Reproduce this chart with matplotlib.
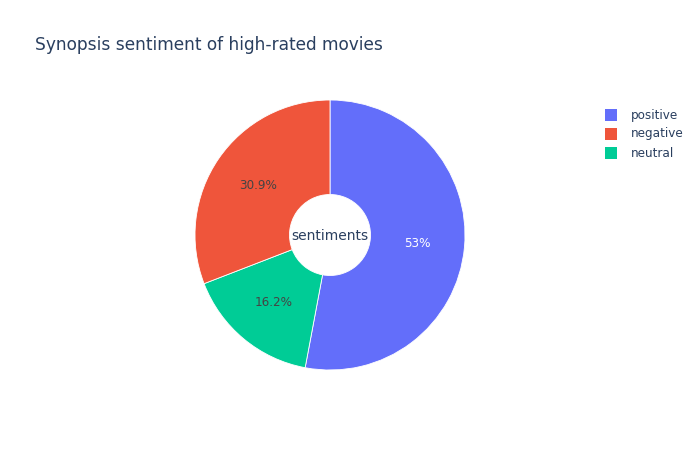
import matplotlib
matplotlib.use("Agg")
import matplotlib.pyplot as plt
from matplotlib.patches import Rectangle

plt.rcParams['font.family'] = ['DejaVu Sans']

labels = ["positive", "negative", "neutral"]
values = [53.0, 30.9, 16.2]
colors = ["#636EFA", "#EF553B", "#00CC96"]
pct_text = ["53%", "30.9%", "16.2%"]
text_colors = ["white", "#444444", "#444444"]
title = "Synopsis sentiment of high-rated movies"
center_label = "sentiments"

# clockwise drawing order as in reference: positive, neutral, negative
order = [0, 2, 1]

fig = plt.figure(figsize=(7, 4.5), dpi=100)
ax = fig.add_axes([(330 - 135) / 700, (450 - 370) / 450, 270 / 700, 270 / 450])
wedges, texts, autotexts = ax.pie(
    [values[i] for i in order],
    colors=[colors[i] for i in order],
    startangle=90,
    counterclock=False,
    radius=1.0,
    autopct=lambda p: "",
    pctdistance=0.65,
    wedgeprops=dict(width=0.7, edgecolor="white", linewidth=0.6),
)
for t, i in zip(autotexts, order):
    t.set_text(pct_text[i])
    t.set_color(text_colors[i])
    t.set_fontsize(8.64)
ax.text(0, -0.01, center_label, ha="center", va="center", fontsize=10.0, color="#2a3f5f")
ax.set_xlim(-1, 1)
ax.set_ylim(-1, 1)
ax.set_aspect("equal")
ax.axis("off")

fig.text(35 / 700, 1 - 45 / 450, title, fontsize=12.24, color="#2a3f5f", ha="left", va="center")

# legend
for k, (lab, col) in enumerate(zip(labels, colors)):
    yc = 115 + 19 * k
    fig.patches.append(Rectangle((605 / 700, 1 - (yc + 6) / 450), 12 / 700, 12 / 450,
                                 transform=fig.transFigure, facecolor=col, edgecolor="none"))
    fig.text(631 / 700, 1 - yc / 450, lab, fontsize=8.64, color="#2a3f5f", ha="left", va="center")

fig.savefig("out.png", dpi=100, facecolor="white")
